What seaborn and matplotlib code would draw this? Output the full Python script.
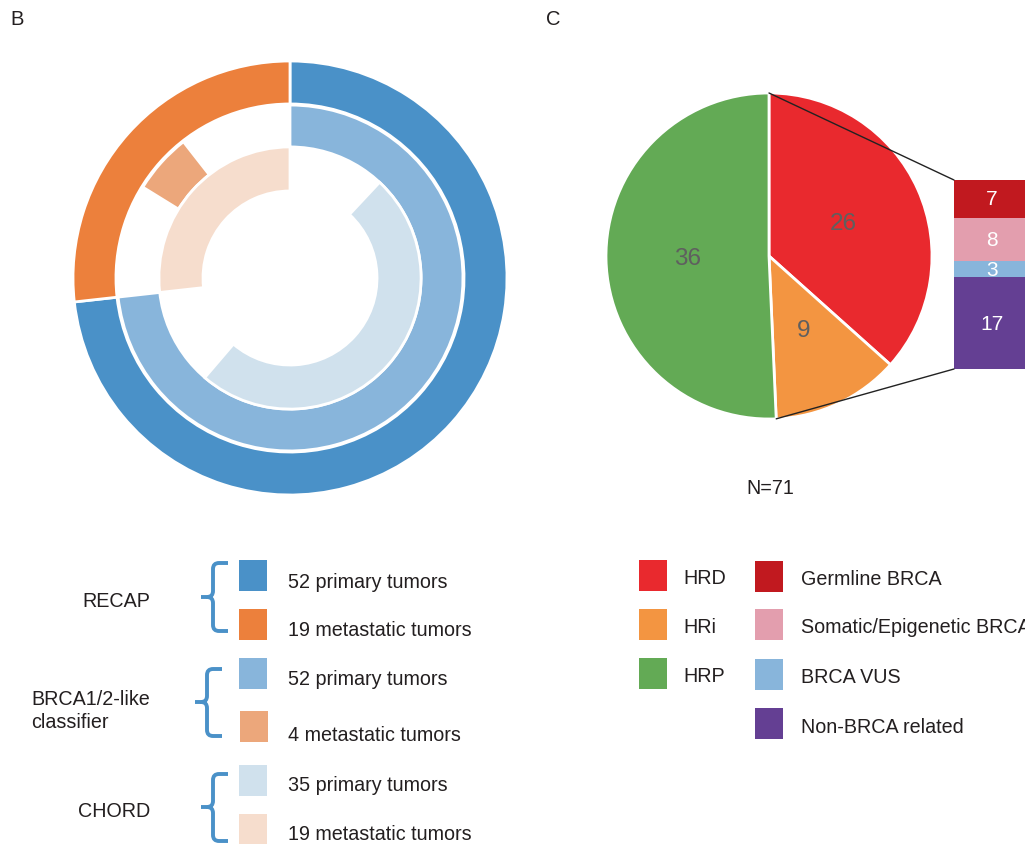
import numpy as np
import pandas as pd
import matplotlib
matplotlib.use("Agg")
import matplotlib.pyplot as plt
from matplotlib.patches import Rectangle, ConnectionPatch, PathPatch
from matplotlib.path import Path
import seaborn as sns

sns.set_theme(style="white")
plt.rcParams["font.family"] = ["Liberation Sans", "DejaVu Sans"]

# ---- Panel B: tumours called by each method ----
methods = ["RECAP", "BRCA1/2-like\nclassifier", "CHORD"]
primary_counts = [52, 52, 35]
metastatic_counts = [19, 4, 19]
primary_total = 52
metastatic_total = 19
primary_colors = ["#4A91C8", "#88B5DB", "#D0E1ED"]
metastatic_colors = ["#EC803C", "#ECA77B", "#F6DDCD"]

# ---- Panel C: HR status and BRCA breakdown ----
hr_status = ["HRD", "HRi", "HRP"]
hr_counts = [26, 9, 36]
hr_colors = ["#E9292E", "#F39541", "#63AA55"]
brca_groups = ["Germline BRCA", "Somatic/Epigenetic BRCA", "BRCA VUS", "Non-BRCA related"]
brca_counts = [7, 8, 3, 17]
brca_colors = ["#C1191F", "#E39EAE", "#88B5DB", "#643F93"]

TEXT = "#231F20"
W, H = 1025, 845
fig = plt.figure(figsize=(W / 100, H / 100), dpi=100)
fig.patch.set_facecolor("white")


def px_axes(left, top, width, height):
    return fig.add_axes([left / W, 1 - (top + height) / H, width / W, height / H])


# overlay in pixel units for legends and annotations
ov = px_axes(0, 0, W, H)
ov.set_xlim(0, W)
ov.set_ylim(H, 0)
ov.axis("off")

# ---- nested donut ----
axb = px_axes(73, 62, 434, 434)
radii = [1.0, 0.797, 0.604]
widths = [0.198, 0.193, 0.203]
for i in range(len(methods)):
    p, m = primary_counts[i], metastatic_counts[i]
    pgap = (primary_total - p) / 2
    mgap = (metastatic_total - m) / 2
    vals = [pgap, p, pgap, mgap, m, mgap]
    cols = ["none", primary_colors[i], "none", "none", metastatic_colors[i], "none"]
    wedges, _ = axb.pie(vals, colors=cols, startangle=90, counterclock=False,
                        radius=radii[i],
                        wedgeprops=dict(width=widths[i], edgecolor="white", linewidth=2))
    for w, c in zip(wedges, cols):
        if c == "none":
            w.set_visible(False)
axb.set_xlim(-1, 1)
axb.set_ylim(-1, 1)
axb.set_aspect("equal")

# ---- HR status pie ----
axc = px_axes(606, 94, 326, 326)
hr_total = sum(hr_counts)
wedges, texts, autotexts = axc.pie(
    hr_counts, colors=hr_colors, startangle=90, counterclock=False,
    autopct=lambda pct: f"{pct * hr_total / 100:.0f}", pctdistance=0.5,
    wedgeprops=dict(edgecolor="white", linewidth=2),
    textprops=dict(color="#5F5F5F", fontsize=17.5))
axc.set_xlim(-1, 1)
axc.set_ylim(-1, 1)
axc.set_aspect("equal")

# ---- stacked BRCA bar ----
axbar = px_axes(954, 181, 76, 189)
brca_df = pd.DataFrame({"pos": [0] * len(brca_groups), "group": brca_groups, "n": brca_counts})
sns.histplot(data=brca_df, x="pos", weights="n", hue="group", hue_order=brca_groups,
             palette=brca_colors, multiple="stack", discrete=True, shrink=1,
             alpha=1, linewidth=0, legend=False, ax=axbar)
brca_total = sum(brca_counts)
axbar.set_xlim(-0.5, 0.5)
axbar.set_ylim(0, brca_total)
axbar.axis("off")
for bar in axbar.patches:
    h = bar.get_height()
    if h > 0:
        axbar.text(bar.get_x() + bar.get_width() / 2, bar.get_y() + h / 2, f"{h:.0f}",
                   ha="center", va="center", color="white", fontsize=15)

# connector lines between the pie and the bar
theta = np.deg2rad(90 - 360 * (hr_counts[0] + hr_counts[1]) / hr_total)
for xyA, xyB in [((-0.5, brca_total), (0, 1)),
                 ((-0.5, 0), (np.cos(theta), np.sin(theta)))]:
    con = ConnectionPatch(xyA=xyA, coordsA=axbar.transData, xyB=xyB, coordsB=axc.transData,
                          color="#222222", linewidth=1)
    fig.add_artist(con)

ov.text(770, 494, f"N={hr_total}", ha="center", va="baseline", fontsize=14.2, color=TEXT)

# panel letters
ov.text(10, 25, "B", ha="left", va="baseline", fontsize=14.5, color=TEXT)
ov.text(546, 25, "C", ha="left", va="baseline", fontsize=14.5, color=TEXT)


# ---- legend for panel B ----
def brace(x, top, bot, mid, nub, arm, r=6):
    verts = [(arm, top), (x + r, top), (x, top), (x, top + r), (x, mid - r), (x, mid), (x - r, mid),
             (nub, mid),
             (x - r, mid), (x, mid), (x, mid + r), (x, bot - r), (x, bot), (x + r, bot), (arm, bot)]
    codes = [Path.MOVETO, Path.LINETO, Path.CURVE3, Path.CURVE3, Path.LINETO, Path.CURVE3,
             Path.CURVE3, Path.LINETO,
             Path.MOVETO, Path.CURVE3, Path.CURVE3, Path.LINETO, Path.CURVE3, Path.CURVE3,
             Path.LINETO]
    ov.add_patch(PathPatch(Path(verts, codes), facecolor="none", edgecolor="#4A91C8",
                           linewidth=2.8, capstyle="butt", joinstyle="round"))


brace_geo = [(213, 564, 632, 598, 201, 228), (207, 670, 737, 703, 195, 222),
             (213, 775, 842, 808, 201, 228)]
# baseline of the last line of each method name
method_baselines = [607, 728, 817]
square_tops = [(561, 610), (659, 712), (766, 815)]
square_left = [(239, 239), (239, 240), (239, 239)]
text_baselines = [(588, 636), (685, 741), (791, 840)]
for i, name in enumerate(methods):
    ov.text(150, method_baselines[i], name, ha="right", va="baseline", multialignment="left",
            fontsize=14.2, color=TEXT, linespacing=1.25)
    brace(*brace_geo[i])
    entries = [(primary_colors[i], f"{primary_counts[i]} primary tumors"),
               (metastatic_colors[i], f"{metastatic_counts[i]} metastatic tumors")]
    for j, (col, lab) in enumerate(entries):
        ov.add_patch(Rectangle((square_left[i][j], square_tops[i][j]), 28, 31,
                               facecolor=col, edgecolor="none"))
        ov.text(288, text_baselines[i][j], lab, ha="left", va="baseline",
                fontsize=14.2, color=TEXT)

# ---- legend for panel C ----
hr_tops = [561, 610, 659]
hr_baselines = [584, 633, 682]
for name, col, top, base in zip(hr_status, hr_colors, hr_tops, hr_baselines):
    ov.add_patch(Rectangle((639, top), 28, 31, facecolor=col, edgecolor="none"))
    ov.text(683, base, name, ha="left", va="baseline", fontsize=14.2, color=TEXT)

brca_tops = [562, 610, 660, 709]
brca_baselines = [585, 633, 683, 733]
for name, col, top, base in zip(brca_groups, brca_colors, brca_tops, brca_baselines):
    ov.add_patch(Rectangle((755, top), 28, 31, facecolor=col, edgecolor="none"))
    ov.text(801, base, name, ha="left", va="baseline", fontsize=14.2, color=TEXT)

fig.savefig("out.png", dpi=100, facecolor="white")
